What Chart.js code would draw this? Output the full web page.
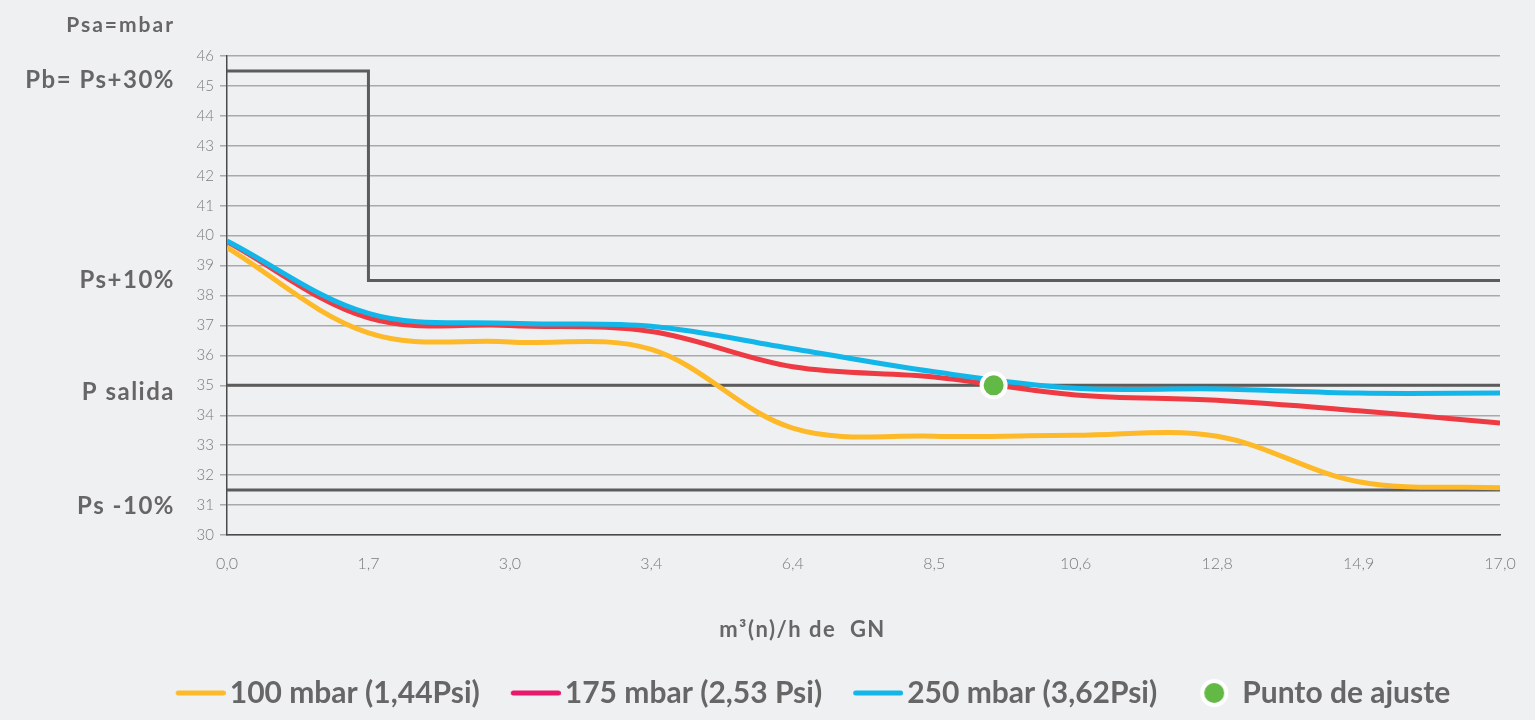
<!DOCTYPE html>
<html>
<head>
<meta charset="utf-8">
<script src="https://cdn.jsdelivr.net/npm/chart.js@4.4.1/dist/chart.umd.min.js"></script>
<style>
    html, body { margin: 0; padding: 0; background: #eff0f2; }
    #wrap { width: 1535px; height: 720px; }
</style>
</head>
<body>
<div id="wrap"><canvas id="graficoPresion"></canvas></div>
<script>
// Datos
const categorias = ['0,0', '1,7', '3,0', '3,4', '6,4', '8,5', '10,6', '12,8', '14,9', '17,0'];
const serie100 = [39.6, 36.75, 36.45, 36.2, 33.57, 33.3, 33.33, 33.3, 31.78, 31.58];
const serie175 = [39.8, 37.25, 37.0, 36.8, 35.62, 35.28, 34.68, 34.5, 34.15, 33.74];
const serie250 = [39.82, 37.4, 37.07, 36.97, 36.22, 35.45, 34.9, 34.88, 34.74, 34.74];
const puntoAjuste = [{ x: 5.42, y: 35.0 }];
const pbNiveles = [45.5, 38.5];   // Pb antes y después del salto
const pbSalto = 1;                 // categoría donde cae Pb
const pSalida = 35;
const psMenos10 = 31.5;
const etiquetasIzq = ['Pb= Ps+30%', 'Ps+10%', 'P salida', 'Ps -10%'];
const valoresIzq = [45.2, 38.5, 34.78, 30.95];
const nombres = ['100 mbar (1,44Psi)', '175 mbar (2,53 Psi)', '250 mbar (3,62Psi)', 'Punto de ajuste'];

const GRIS = '#5c5c5c';
const TEXTO = '#666666';
const ultimo = categorias.length - 1;

// puntos de las líneas de referencia
const lineaPb = [
    { x: 0, y: pbNiveles[0] }, { x: pbSalto, y: pbNiveles[0] },
    { x: pbSalto, y: pbNiveles[1] }, { x: ultimo, y: pbNiveles[1] }
];
const horizontal = v => [{ x: 0, y: v }, { x: ultimo, y: v }];
const aPuntos = arr => arr.map((v, i) => ({ x: i, y: v }));

// muestras de la leyenda dibujadas en pequeños canvas
function muestraLinea(color) {
    const c = document.createElement('canvas');
    c.width = 82; c.height = 8;
    const g = c.getContext('2d');
    g.strokeStyle = color; g.lineWidth = 5; g.lineCap = 'round';
    g.beginPath(); g.moveTo(34.5, 4); g.lineTo(79.5, 4); g.stroke();
    return c;
}
function muestraPunto(color) {
    const c = document.createElement('canvas');
    c.width = 82; c.height = 30;
    const g = c.getContext('2d');
    g.beginPath(); g.arc(58, 15, 12, 0, Math.PI * 2);
    g.fillStyle = color; g.fill();
    g.lineWidth = 4; g.strokeStyle = '#ffffff'; g.stroke();
    return c;
}

Chart.defaults.font.family = 'Lato, "Open Sans", sans-serif';

const textosExtra = {
    id: 'textosExtra',
    afterDraw(chart) {
        const ctx = chart.ctx;
        const y = chart.scales.y;
        ctx.save();
        ctx.fillStyle = TEXTO;
        ctx.textAlign = 'right';
        ctx.textBaseline = 'middle';
        ctx.letterSpacing = '2px';
        ctx.font = 'bold 21px Lato';
        ctx.fillText('Psa=mbar', 175, chart.chartArea.top - 31);
        ctx.letterSpacing = '1.5px';
        ctx.font = 'bold 24px Lato';
        etiquetasIzq.forEach((t, i) => ctx.fillText(t, 175, y.getPixelForValue(valoresIzq[i])));
        // título del eje x
        ctx.textAlign = 'center';
        ctx.letterSpacing = '1.5px';
        ctx.font = 'bold 22px Lato';
        ctx.fillText('m³(n)/h de  GN', (chart.legend.left + chart.legend.right) / 2, chart.chartArea.bottom + 95);
        ctx.restore();
    }
};

new Chart(document.getElementById('graficoPresion').getContext('2d'), {
    type: 'line',
    data: {
        datasets: [
            {
                label: nombres[3], data: puntoAjuste, showLine: false, order: 0,
                pointRadius: 12, pointBackgroundColor: '#63b946',
                pointBorderColor: '#ffffff', pointBorderWidth: 4
            },
            { label: nombres[2], data: aPuntos(serie250), borderColor: '#12b6e8', borderWidth: 5, tension: 0.35, pointRadius: 0, order: 1 },
            { label: nombres[1], data: aPuntos(serie175), borderColor: '#ee3a43', borderWidth: 5, tension: 0.35, pointRadius: 0, order: 2 },
            { label: nombres[0], data: aPuntos(serie100), borderColor: '#fdb928', borderWidth: 5, tension: 0.35, pointRadius: 0, order: 3 },
            { label: 'Pb', data: lineaPb, borderColor: GRIS, borderWidth: 3, pointRadius: 0, order: 10 },
            { label: 'P salida', data: horizontal(pSalida), borderColor: GRIS, borderWidth: 3, pointRadius: 0, order: 10 },
            { label: 'Ps -10%', data: horizontal(psMenos10), borderColor: GRIS, borderWidth: 3, pointRadius: 0, order: 10 }
        ]
    },
    options: {
        responsive: true,
        maintainAspectRatio: false,
        animation: false,
        layout: { padding: { left: 105, right: 35, top: 56, bottom: 2 } },
        plugins: {
            tooltip: { enabled: false },
            legend: {
                position: 'bottom',
                labels: {
                    usePointStyle: true,
                    pointStyleWidth: 60,
                    padding: 10,
                    color: TEXTO,
                    font: { size: 30, weight: 'bold' },
                    generateLabels: () => [
                        { text: nombres[0], pointStyle: muestraLinea('#fdb928'), fontColor: TEXTO },
                        { text: nombres[1], pointStyle: muestraLinea('#e8196b'), fontColor: TEXTO },
                        { text: nombres[2], pointStyle: muestraLinea('#12b6e8'), fontColor: TEXTO },
                        { text: nombres[3], pointStyle: muestraPunto('#63b946'), fontColor: TEXTO }
                    ]
                }
            }
        },
        scales: {
            x: {
                type: 'linear',
                min: 0,
                max: ultimo,
                afterFit: s => { s.height = 133; },
                grid: { display: false, drawTicks: false },
                border: { color: '#4a4a4a', width: 1.5 },
                ticks: {
                    stepSize: 1,
                    padding: 19,
                    color: '#7b7b7b',
                    font: { size: 16, weight: 300 },
                    callback: v => categorias[v]
                }
            },
            y: {
                min: 30,
                max: 46,
                afterFit: s => { s.width = 122; },
                grid: { color: '#a9a9a9', lineWidth: 1.5, tickLength: 7 },
                border: { color: '#4a4a4a', width: 1.5 },
                ticks: { stepSize: 1, padding: 6, color: '#7b7b7b', font: { size: 15, weight: 300 } }
            }
        }
    },
    plugins: [textosExtra]
});
</script>
</body>
</html>
